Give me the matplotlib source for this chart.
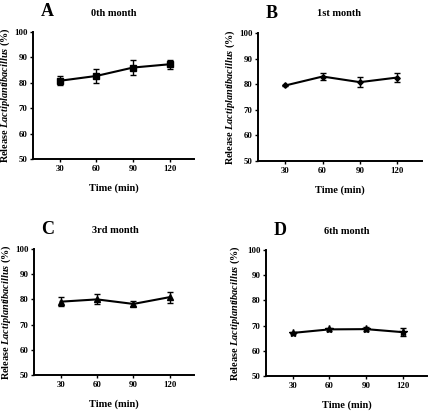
import matplotlib
matplotlib.use("Agg")
import matplotlib.pyplot as plt

plt.rcParams['font.family'] = ['Liberation Serif', 'DejaVu Serif']
plt.rcParams['font.weight'] = 'bold'
plt.rcParams['mathtext.fontset'] = 'custom'
plt.rcParams['mathtext.bfit'] = 'Liberation Serif:italic:bold'
plt.rcParams['mathtext.it'] = 'Liberation Serif:italic:bold'

time_min = [30, 60, 90, 120]

# mean release (%) and error per storage month
m0_mean = [80.8, 82.7, 86.0, 87.3]
m0_err = [1.7, 2.6, 2.8, 1.8]
m1_mean = [79.5, 83.0, 80.8, 82.6]
m1_err = [0.3, 1.4, 1.9, 1.7]
m3_mean = [79.1, 80.0, 78.2, 80.9]
m3_err = [1.7, 2.0, 1.0, 2.2]
m6_mean = [67.1, 68.5, 68.6, 67.4]
m6_err = [0.3, 0.6, 0.9, 1.6]

titles = ["0th month", "1st month", "3rd month", "6th month"]
letters = ["A", "B", "C", "D"]
markers = ["s", "D", "^", "*"]
msizes = [4.5, 2.8, 4.5, 6]

W, H = 438, 415
fig = plt.figure(figsize=(W / 100, H / 100), dpi=100)

# axes boxes in pixels: left, right, top, bottom
boxes = [(33, 194, 32, 159), (258, 422, 33, 161),
         (34, 194, 249, 375), (266, 427, 250, 376)]
series = [(m0_mean, m0_err), (m1_mean, m1_err),
          (m3_mean, m3_err), (m6_mean, m6_err)]

for i, (l, r, t, b) in enumerate(boxes):
    ax = fig.add_axes([l / W, 1 - b / H, (r - l) / W, (b - t) / H])
    mean, err = series[i]
    ax.errorbar(time_min, mean, yerr=err, color="black", lw=1.5,
                marker=markers[i], ms=msizes[i], capsize=2, elinewidth=1,
                capthick=1)
    ax.set_xlim(8, 140)
    ax.set_ylim(50, 100)
    ax.set_xticks(time_min)
    ax.set_yticks(range(50, 101, 10))
    ax.spines['right'].set_visible(False)
    ax.spines['top'].set_visible(False)
    ax.spines['left'].set_linewidth(1.4)
    ax.spines['bottom'].set_linewidth(1.4)
    ax.tick_params(labelsize=6.3, width=1, length=2.5, pad=1.5)
    for lab in ax.get_xticklabels() + ax.get_yticklabels():
        lab.set_fontweight('bold')
    ax.set_xlabel("Time (min)", fontsize=7.5, fontweight='bold', labelpad=8)
    ax.set_ylabel(r"Release $\mathit{Lactiplantibacillus}$ (%)",
                  fontsize=7.4, fontweight='bold')
    # label right edge sits about 20 px left of the spine
    ax.yaxis.set_label_coords(-(21 if i != 3 else 24) / (r - l), 0.5)
    fig.text((l + 14) / W, 1 - (t - 20) / H, letters[i], fontsize=13,
             fontweight='bold', ha='center', va='center')
    fig.text((l + 81) / W, 1 - (t - 19) / H, titles[i], fontsize=7.5,
             fontweight='bold', ha='center', va='center')

fig.savefig("out.png", dpi=100)
